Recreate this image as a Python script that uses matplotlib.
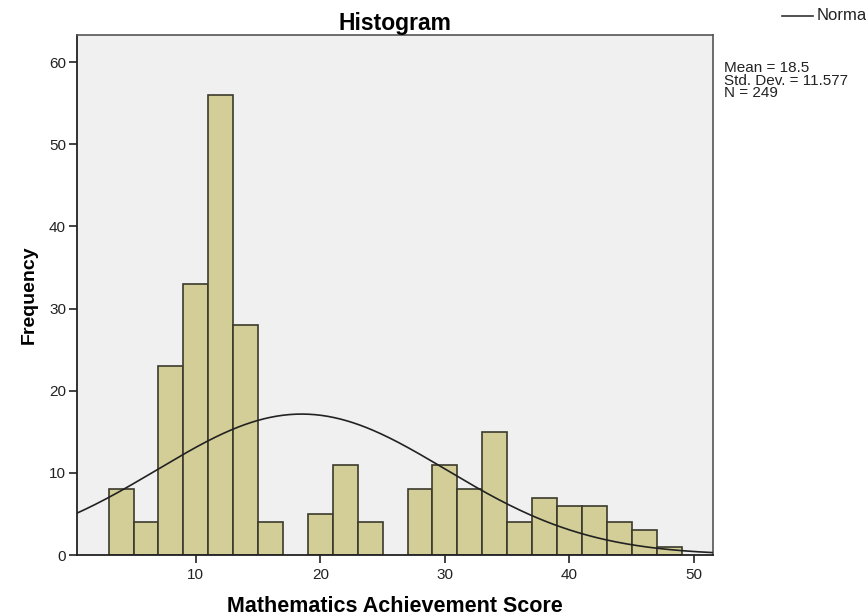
import numpy as np
import matplotlib
matplotlib.use("Agg")
import matplotlib.pyplot as plt

plt.rcParams['font.family'] = ['Liberation Sans', 'DejaVu Sans']

# histogram bins (width 2, from 3 to 49) and counts
bin_edges = [3, 5, 7, 9, 11, 13, 15, 17, 19, 21, 23, 25, 27, 29, 31, 33, 35, 37, 39, 41, 43, 45, 47, 49]
counts = [8, 4, 23, 33, 56, 28, 4, 0, 5, 11, 4, 0, 8, 11, 8, 15, 4, 7, 6, 6, 4, 3, 1]

mean = 18.5
std_dev = 11.577
n = 249
bin_width = 2

fig = plt.figure(figsize=(8.66, 6.16), dpi=100)
ax = fig.add_axes([0.089, 0.099, 0.734, 0.844])
ax.set_facecolor('#f0f0f0')

lefts = bin_edges[:-1]
for left, c in zip(lefts, counts):
    if c > 0:
        ax.bar(left, c, width=bin_width, align='edge', color='#d3ce97',
               edgecolor='#3b3a2c', linewidth=1.2, zorder=2)

# normal curve from the stated mean / sd / N
xs = np.linspace(0.4, 51.6, 300)
ys = n * bin_width / (std_dev * np.sqrt(2 * np.pi)) * np.exp(-(xs - mean) ** 2 / (2 * std_dev ** 2))
ax.plot(xs, ys, color='#222222', linewidth=1.2, zorder=3)

ax.set_xlim(0.47, 51.5)
ax.set_ylim(0, 63.3)
ax.set_xticks([10, 20, 30, 40, 50])
ax.set_yticks([0, 10, 20, 30, 40, 50, 60])
ax.tick_params(axis='both', direction='out', length=6, width=1.2, labelsize=11, colors='#222222')
ax.tick_params(axis='y', pad=2)
for s in ['left', 'bottom']:
    ax.spines[s].set_color('#222222')
    ax.spines[s].set_linewidth(1.3)
for s in ['top', 'right']:
    ax.spines[s].set_color('#555555')
    ax.spines[s].set_linewidth(1.2)

ax.set_title('Histogram', fontsize=16.5, fontweight='bold', pad=4)
ax.set_xlabel('Mathematics Achievement Score', fontsize=15.5, fontweight='bold', labelpad=10)
ax.set_ylabel('Frequency', fontsize=14, fontweight='bold', labelpad=8)

# legend and stats box on the right, like SPSS
fig.add_artist(plt.Line2D([782 / 866, 813 / 866], [1 - 16 / 616, 1 - 16 / 616],
                          color='#333333', linewidth=1.2))
fig.text(817 / 866, 1 - 16 / 616, 'Normal', fontsize=12, va='center', ha='left', color='#222222')
fig.text(724 / 866, 1 - 61 / 616, 'Mean = 18.5\nStd. Dev. = 11.577\nN = 249',
         fontsize=11, va='top', ha='left', linespacing=0.88, color='#222222')

fig.savefig('out.png', dpi=100)
